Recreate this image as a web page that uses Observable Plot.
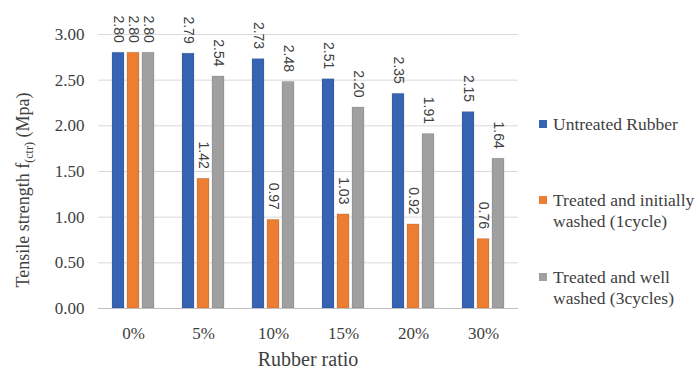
<!DOCTYPE html>
<html>
<head>
<meta charset="utf-8">
<script src="https://cdn.jsdelivr.net/npm/d3@7"></script>
<script src="https://cdn.jsdelivr.net/npm/@observablehq/plot@0.6"></script>
<style>
  body { margin: 0; background: #fff; }
  #chart { width: 697px; height: 373px; }
</style>
</head>
<body>
<div id="chart"></div>
<script>
// Rubber replacement ratios (x categories)
const ratios = ["0%", "5%", "10%", "15%", "20%", "30%"];

// Series names and their values (tensile strength, MPa)
const seriesNames = [
  "Untreated Rubber",
  "Treated and initially washed (1cycle)",
  "Treated and well washed (3cycles)"
];
const untreated = [2.80, 2.79, 2.73, 2.51, 2.35, 2.15];
const washedOnce = [2.80, 1.42, 0.97, 1.03, 0.92, 0.76];
const washedThrice = [2.80, 2.54, 2.48, 2.20, 1.91, 1.64];

// Legend text, split over lines
const legendLines = [
  ["Untreated Rubber"],
  ["Treated and initially", "washed (1cycle)"],
  ["Treated and well", "washed (3cycles)"]
];

// Y axis ticks
const yTicks = [0, 0.5, 1, 1.5, 2, 2.5, 3];

const colors = ["#3763b3", "#ed7d31", "#a0a0a0"];

const seriesValues = [untreated, washedOnce, washedThrice];
const rows = ratios.flatMap((ratio, i) =>
  seriesNames.map((name, s) => ({ratio, series: name, value: seriesValues[s][i]}))
);

const serif = "Liberation Serif";
const fmt = d3.format(".2f");

const plot = Plot.plot({
  width: 697,
  height: 373,
  marginLeft: 97,
  marginRight: 179,
  marginTop: 34,
  marginBottom: 65,
  style: {fontFamily: serif, color: "#404040", background: "#fff"},
  fx: {domain: ratios, padding: 0, label: null},
  x: {domain: seriesNames, paddingInner: 0.2, paddingOuter: 0.86, axis: null},
  y: {domain: [0, 3]},
  color: {domain: seriesNames, range: colors},
  marks: [
    Plot.gridY(yTicks, {stroke: "#d9d9d9", strokeOpacity: 1}),
    Plot.axisY(yTicks, {tickFormat: fmt, tickSize: 0, tickPadding: 14, fontSize: 17, fontFamily: serif, label: null, fill: "#404040"}),
    Plot.axisFx({anchor: "bottom", tickSize: 0, tickPadding: 18, fontSize: 17, fontFamily: serif, label: null, fill: "#404040"}),
    Plot.barY(rows, {fx: "ratio", x: "series", y: "value", fill: "series", stroke: "#000", strokeOpacity: 0.12}),
    Plot.ruleY([0], {stroke: "#bfbfbf"}),
    Plot.text(rows, {
      fx: "ratio", x: "series", y: "value",
      text: d => fmt(d.value),
      rotate: 90, textAnchor: "end", dy: -10,
      fontFamily: "Liberation Sans", fontSize: 14, fill: "#404040"
    })
  ]
});

document.getElementById("chart").appendChild(plot);

const svg = d3.select(plot);

// Y axis title with subscript
const yTitle = svg.append("text")
  .attr("transform", "translate(29,190) rotate(-90)")
  .attr("text-anchor", "middle")
  .attr("font-family", serif)
  .attr("font-size", 18)
  .attr("fill", "#404040");
yTitle.append("tspan").text("Tensile strength f");
yTitle.append("tspan").attr("font-size", 12).attr("dy", 4).text("(ctr)");
yTitle.append("tspan").attr("dy", -4).text(" (Mpa)");

// X axis title
svg.append("text")
  .attr("x", 308).attr("y", 366)
  .attr("text-anchor", "middle")
  .attr("font-family", serif)
  .attr("font-size", 20)
  .attr("fill", "#404040")
  .text("Rubber ratio");

// Legend
const legendTop = [130, 206, 283];
const legend = svg.append("g")
  .attr("font-family", serif)
  .attr("font-size", 17.5)
  .attr("text-anchor", "start")
  .attr("fill", "#404040");
legendLines.forEach((lines, i) => {
  legend.append("rect")
    .attr("x", 539).attr("y", legendTop[i] - 10)
    .attr("width", 8).attr("height", 8)
    .attr("fill", colors[i]);
  const t = legend.append("text").attr("x", 553).attr("y", legendTop[i]);
  lines.forEach((line, j) => {
    t.append("tspan").attr("x", 553).attr("dy", j ? 21 : 0).text(line);
  });
});
</script>
</body>
</html>
